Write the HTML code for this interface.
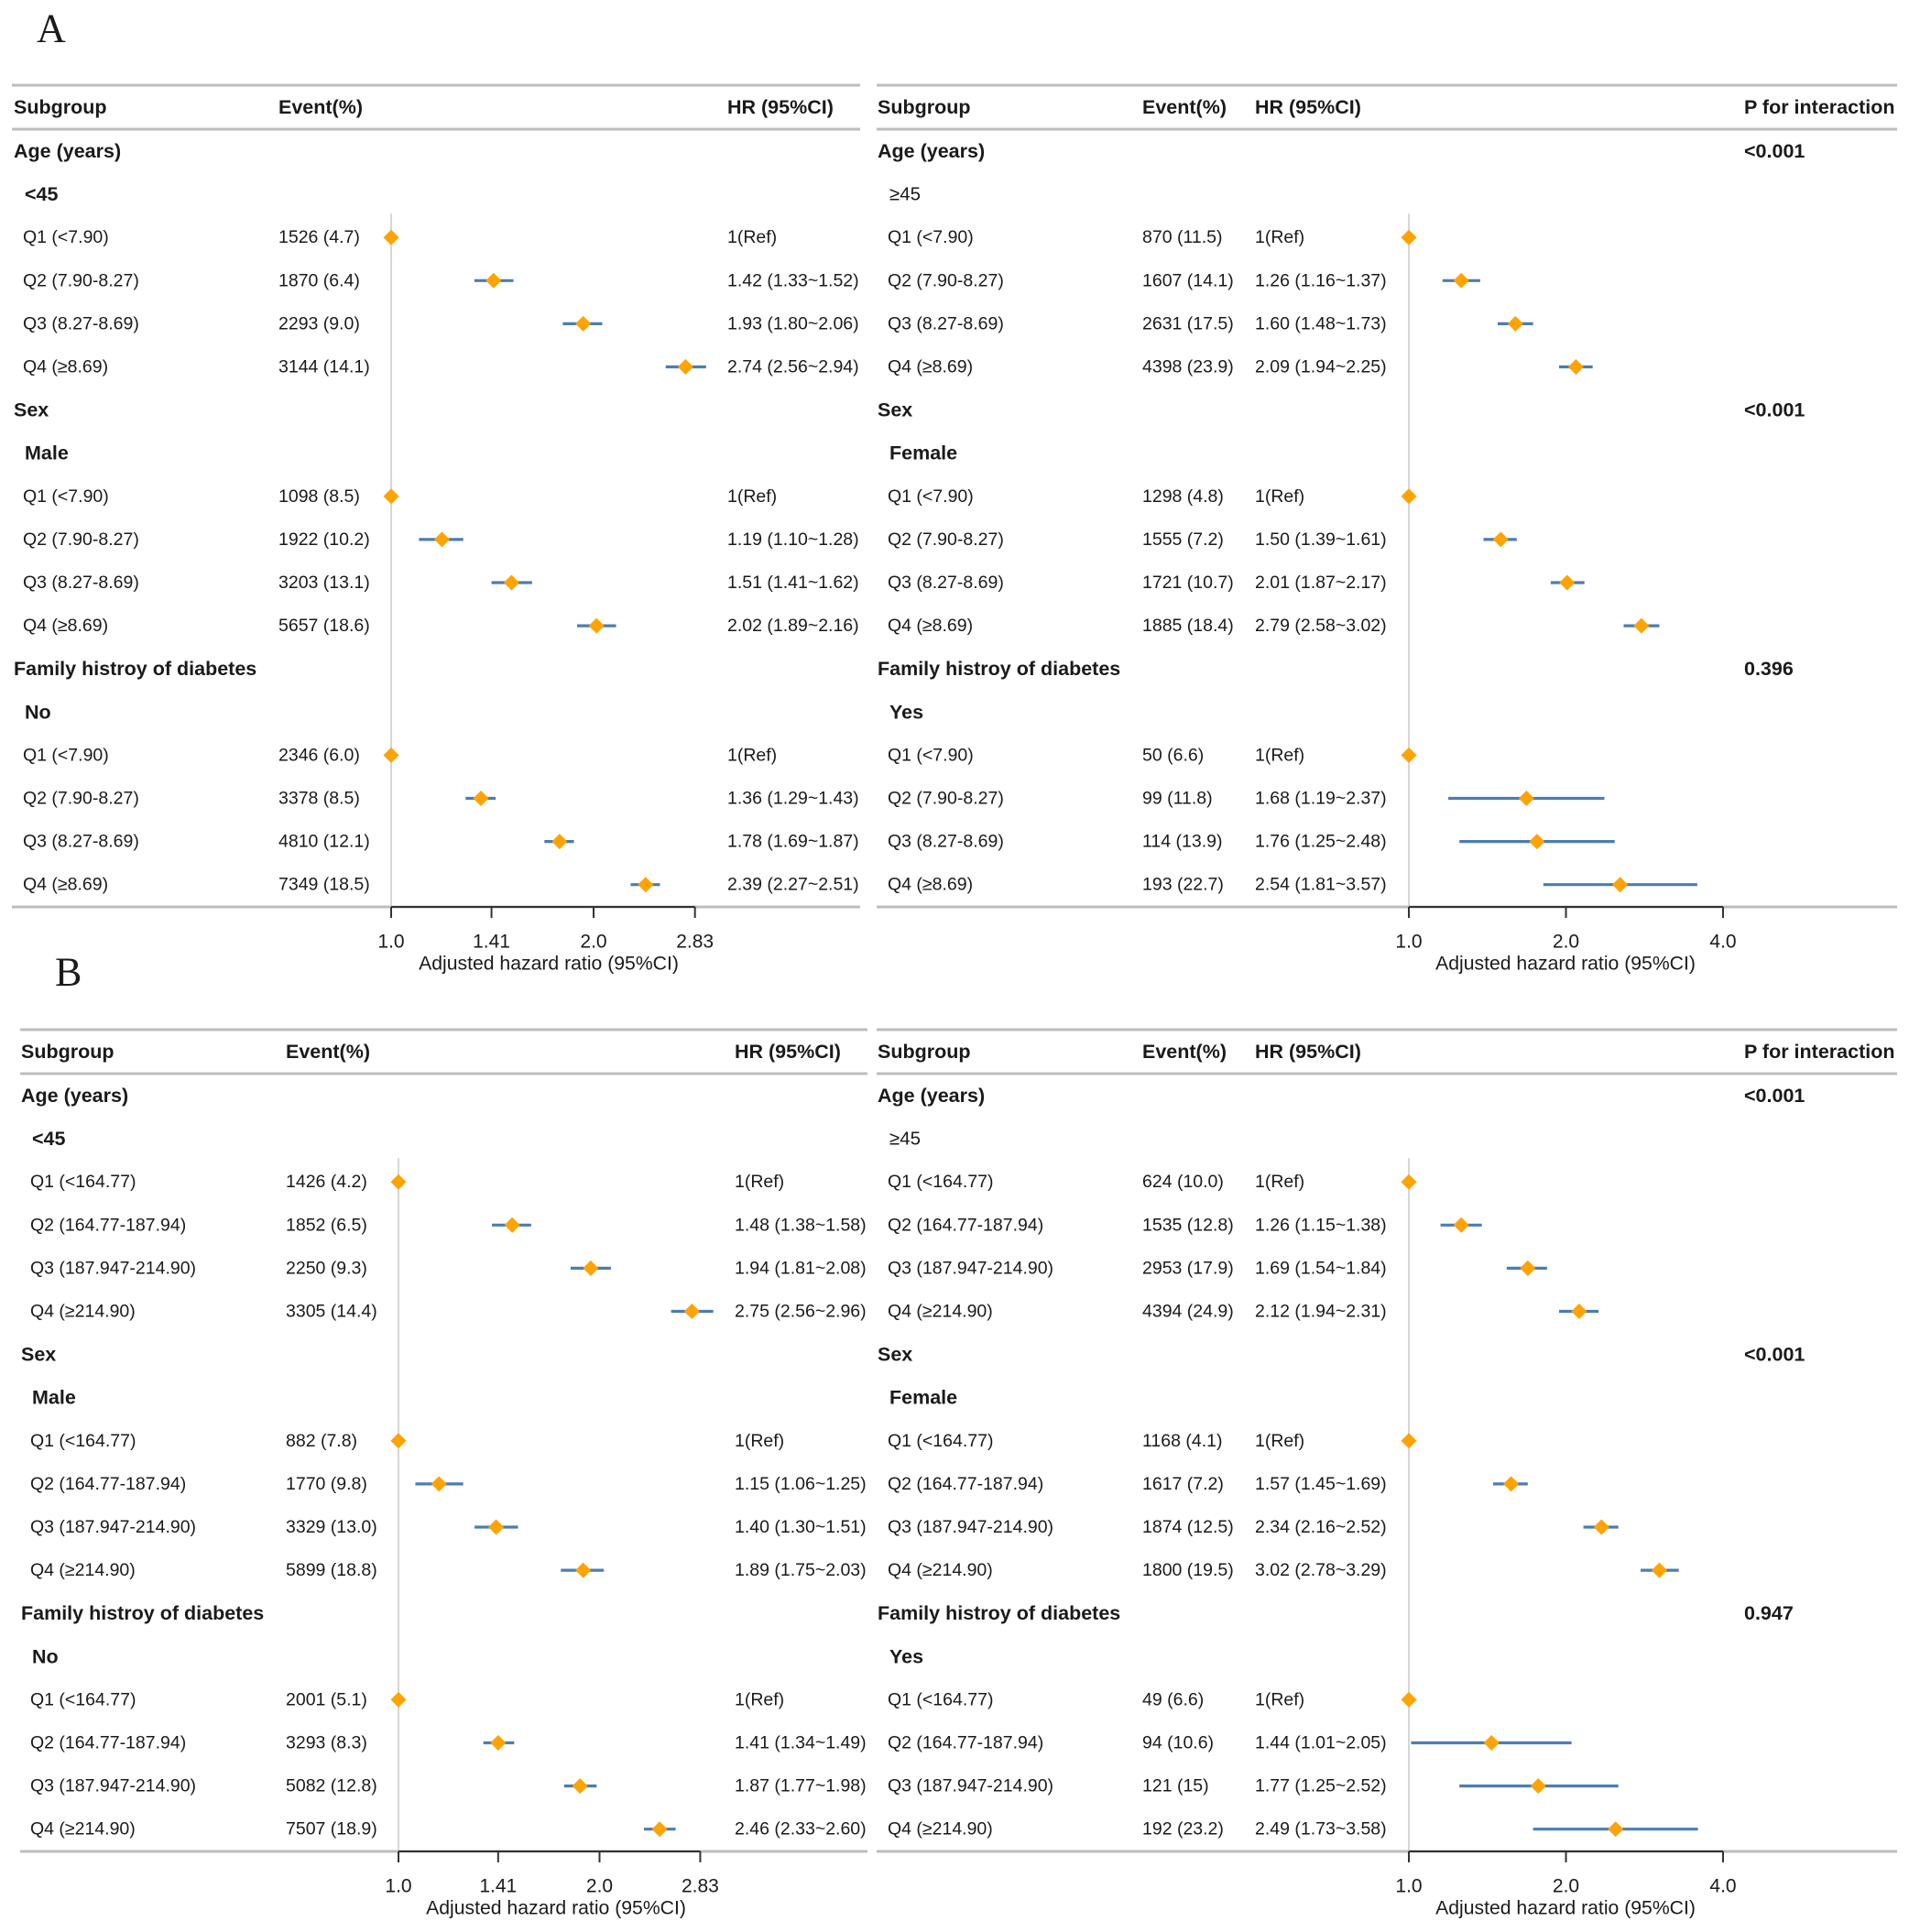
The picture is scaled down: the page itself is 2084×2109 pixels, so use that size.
<!DOCTYPE html>
<html><head><meta charset="utf-8"><style>
html,body{margin:0;padding:0;background:#fff}
svg{display:block}
text{font-family:"Liberation Sans",sans-serif;fill:#1a1a1a}
</style></head><body>
<svg id="fig" width="2084" height="2109" viewBox="0 0 2084 2109" xmlns="http://www.w3.org/2000/svg"></svg>
<script>
// ---- data ----
const groupLabels = ["Age (years)","Sex","Family histroy of diabetes"];
const subLeft = ["<45","Male","No"];
const subRight = ["\u226545","Female","Yes"];
const qLabelsA = ["Q1 (<7.90)","Q2 (7.90-8.27)","Q3 (8.27-8.69)","Q4 (\u22658.69)"];
const qLabelsB = ["Q1 (<164.77)","Q2 (164.77-187.94)","Q3 (187.947-214.90)","Q4 (\u2265214.90)"];
const pValuesA = ["<0.001","<0.001","0.396"];
const pValuesB = ["<0.001","<0.001","0.947"];
const ticksLeft = [1.0,1.41,2.0,2.83];
const tickLabelsLeft = ["1.0","1.41","2.0","2.83"];
const ticksRight = [1.0,2.0,4.0];
const tickLabelsRight = ["1.0","2.0","4.0"];

const eventsAL = ["1526 (4.7)","1870 (6.4)","2293 (9.0)","3144 (14.1)","1098 (8.5)","1922 (10.2)","3203 (13.1)","5657 (18.6)","2346 (6.0)","3378 (8.5)","4810 (12.1)","7349 (18.5)"];
const hrAL = [1,1.42,1.93,2.74,1,1.19,1.51,2.02,1,1.36,1.78,2.39];
const loAL = [1,1.33,1.80,2.56,1,1.10,1.41,1.89,1,1.29,1.69,2.27];
const hiAL = [1,1.52,2.06,2.94,1,1.28,1.62,2.16,1,1.43,1.87,2.51];

const eventsAR = ["870 (11.5)","1607 (14.1)","2631 (17.5)","4398 (23.9)","1298 (4.8)","1555 (7.2)","1721 (10.7)","1885 (18.4)","50 (6.6)","99 (11.8)","114 (13.9)","193 (22.7)"];
const hrAR = [1,1.26,1.60,2.09,1,1.50,2.01,2.79,1,1.68,1.76,2.54];
const loAR = [1,1.16,1.48,1.94,1,1.39,1.87,2.58,1,1.19,1.25,1.81];
const hiAR = [1,1.37,1.73,2.25,1,1.61,2.17,3.02,1,2.37,2.48,3.57];

const eventsBL = ["1426 (4.2)","1852 (6.5)","2250 (9.3)","3305 (14.4)","882 (7.8)","1770 (9.8)","3329 (13.0)","5899 (18.8)","2001 (5.1)","3293 (8.3)","5082 (12.8)","7507 (18.9)"];
const hrBL = [1,1.48,1.94,2.75,1,1.15,1.40,1.89,1,1.41,1.87,2.46];
const loBL = [1,1.38,1.81,2.56,1,1.06,1.30,1.75,1,1.34,1.77,2.33];
const hiBL = [1,1.58,2.08,2.96,1,1.25,1.51,2.03,1,1.49,1.98,2.60];

const eventsBR = ["624 (10.0)","1535 (12.8)","2953 (17.9)","4394 (24.9)","1168 (4.1)","1617 (7.2)","1874 (12.5)","1800 (19.5)","49 (6.6)","94 (10.6)","121 (15)","192 (23.2)"];
const hrBR = [1,1.26,1.69,2.12,1,1.57,2.34,3.02,1,1.44,1.77,2.49];
const loBR = [1,1.15,1.54,1.94,1,1.45,2.16,2.78,1,1.01,1.25,1.73];
const hiBR = [1,1.38,1.84,2.31,1,1.69,2.52,3.29,1,2.05,2.52,3.58];

// ---- drawing ----
const NS = "http://www.w3.org/2000/svg";
const svg = document.getElementById("fig");
function mk(tag, attrs, parent){
  const e = document.createElementNS(NS, tag);
  for (const k in attrs) e.setAttribute(k, attrs[k]);
  (parent||svg).appendChild(e);
  return e;
}
function txt(x,y,s,opt,parent){
  const t = mk("text",{x:x,y:y,"dominant-baseline":"central","font-size":opt.size||(opt.bold?21.5:19.5),"font-weight":opt.bold?"bold":"normal","text-anchor":opt.anchor||"start"},parent);
  t.textContent = s;
  return t;
}
function fmt(v){ return v.toFixed(2); }

function panel(cfg){
  const g = mk("g",{});
  
  
  const y0 = cfg.y0, step = 47.1;
  const rowY = i => y0 + 72 + i*step;
  const xs = v => cfg.x1 + Math.log2(v)*cfg.unit;
  [[y0,"top-rule"],[y0+48,"header-rule"],[y0+897,"bottom-rule"]].forEach(r=>{
    const l = mk("line",{x1:cfg.lx1,x2:cfg.lx2,y1:r[0],y2:r[0],stroke:"#bdbdbd","stroke-width":3},g);
    
    
  });
  const hy = y0+24;
  let t = txt(cfg.xSub,hy,"Subgroup",{bold:true},g);
   
  t = txt(cfg.xEv,hy,"Event(%)",{bold:true},g);
   
  t = txt(cfg.xHr,hy,"HR (95%CI)",{bold:true},g);
   
  if (cfg.pvals){
    t = txt(cfg.xP,hy,"P for interaction",{bold:true},g);
     
  }
  const ref = mk("line",{x1:xs(1),x2:xs(1),y1:rowY(2)-26,y2:y0+897,stroke:"#c8c8c8","stroke-width":1.5},g);
  
  
  for (let gi=0; gi<3; gi++){
    const base = gi*6;
    t = txt(cfg.xSub,rowY(base),groupLabels[gi],{bold:true},g);
     
    if (cfg.pvals){
      t = txt(cfg.xP,rowY(base),cfg.pvals[gi],{bold:true},g);
       
    }
    const subBold = !(cfg.subs[gi].charAt(0)==="\u2265");
    t = txt(cfg.xSub2,rowY(base+1),cfg.subs[gi],subBold?{bold:true}:{size:20.5},g);
     
    for (let q=0;q<4;q++){
      const idx = gi*4+q, y = rowY(base+2+q);
      t = txt(cfg.xQ,y,cfg.qlabels[q],{},g);
       
      t = txt(cfg.xEv,y,cfg.events[idx],{},g);
       
      const hrs = q===0 ? "1(Ref)" : fmt(cfg.hr[idx])+" ("+fmt(cfg.lo[idx])+"~"+fmt(cfg.hi[idx])+")";
      t = txt(cfg.xHr,y,hrs,{},g);
       
      if (q>0){
        const ci = mk("line",{x1:xs(cfg.lo[idx]),x2:xs(cfg.hi[idx]),y1:y,y2:y,stroke:"#4a7db3","stroke-width":3.2},g);
        
        
      }
      const cx = xs(cfg.hr[idx]), d = 8.5;
      const dm = mk("polygon",{points:`${cx},${y-d} ${cx+d},${y} ${cx},${y+d} ${cx-d},${y}`,fill:"#ffa300"},g);
      
      
    }
  }
  const ay = y0+897;
  const ax = mk("line",{x1:xs(cfg.ticks[0]),x2:xs(cfg.ticks[cfg.ticks.length-1]),y1:ay,y2:ay,stroke:"#333","stroke-width":2},g);
  
  
  cfg.ticks.forEach((v,i)=>{
    const tk = mk("line",{x1:xs(v),x2:xs(v),y1:ay,y2:ay+12,stroke:"#333","stroke-width":2},g);
    
    
    const tl = txt(xs(v),ay+38,cfg.tickLabels[i],{size:21,anchor:"middle"},g);
    
    
  });
  const at = txt(cfg.titleX,ay+62,"Adjusted hazard ratio (95%CI)",{size:21.2,anchor:"middle"},g);
  
  
}

const L = {lx1:13,lx2:939,xSub:15,xSub2:27,xQ:25,xEv:304,xHr:794,x1:427,unit:221,ticks:ticksLeft,tickLabels:tickLabelsLeft,subs:subLeft,titleX:599};
const R = {lx1:957,lx2:2071,xSub:958,xSub2:971,xQ:969,xEv:1247,xHr:1370,xP:1904,x1:1538,unit:171.5,ticks:ticksRight,tickLabels:tickLabelsRight,subs:subRight,titleX:1709};

panel(Object.assign({},L,{name:"panel-a-left",y0:93,qlabels:qLabelsA,events:eventsAL,hr:hrAL,lo:loAL,hi:hiAL}));
panel(Object.assign({},R,{name:"panel-a-right",y0:93,qlabels:qLabelsA,events:eventsAR,hr:hrAR,lo:loAR,hi:hiAR,pvals:pValuesA}));
panel(Object.assign({},L,{name:"panel-b-left",y0:1124,lx1:22,lx2:947,xSub:23,xSub2:35,xQ:33,xEv:312,xHr:802,x1:435,unit:219.5,titleX:607,qlabels:qLabelsB,events:eventsBL,hr:hrBL,lo:loBL,hi:hiBL}));
panel(Object.assign({},R,{name:"panel-b-right",y0:1124,qlabels:qLabelsB,events:eventsBR,hr:hrBR,lo:loBR,hi:hiBR,pvals:pValuesB}));

const la = mk("text",{x:40,y:31,"dominant-baseline":"central","font-size":44,style:"font-family:'Liberation Serif',serif"});
la.textContent = "A";


const lb = mk("text",{x:60,y:1061,"dominant-baseline":"central","font-size":44,style:"font-family:'Liberation Serif',serif"});
lb.textContent = "B";


</script>
</body></html>
